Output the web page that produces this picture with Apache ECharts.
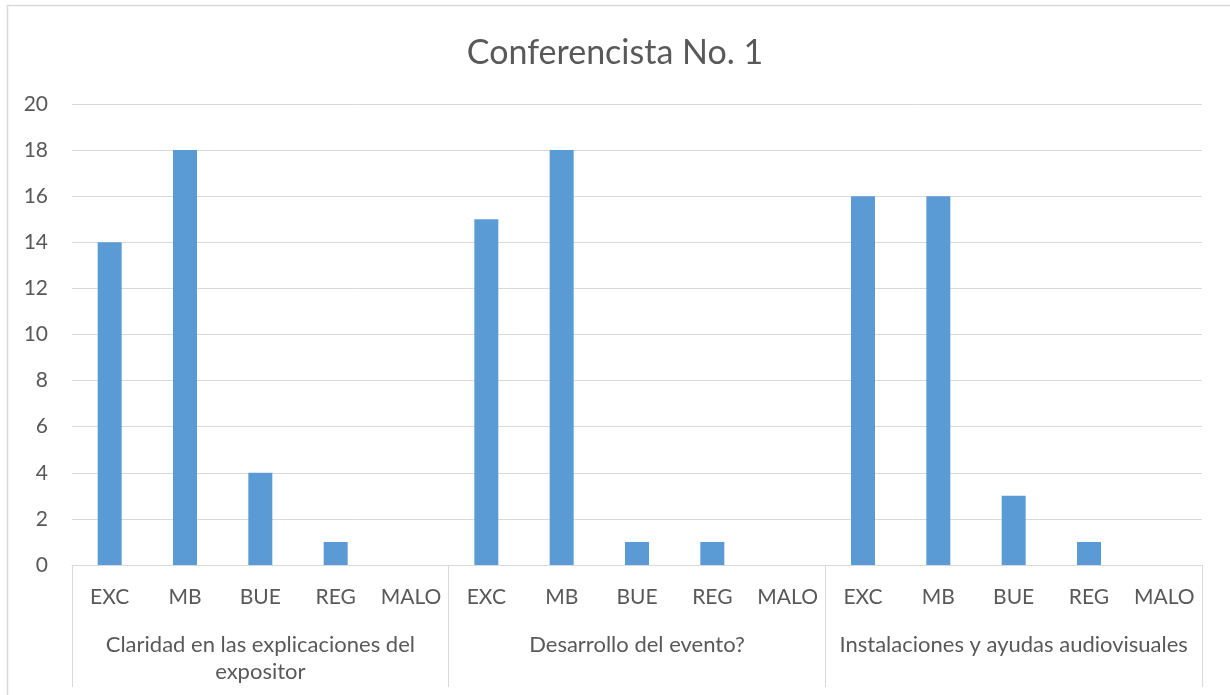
<!DOCTYPE html>
<html>
<head>
  <meta charset="utf-8">
  <title>Conferencista No. 1</title>
  <script src="https://cdn.jsdelivr.net/npm/echarts@6/dist/echarts.min.js"></script>
  <style>
    body { margin: 0; padding: 0; background: #fff; }
    #main { width: 1230px; height: 695px; }
  </style>
</head>
<body>
  <div id="main"></div>
  <script>
    // ratings per block of questions
    var ratings = ['EXC', 'MB', 'BUE', 'REG', 'MALO'];
    var groups = ['Claridad en las explicaciones del\nexpositor', 'Desarrollo del evento?', 'Instalaciones y ayudas audiovisuales'];
    var claridad = [14, 18, 4, 1, 0];
    var desarrollo = [15, 18, 1, 1, 0];
    var instalaciones = [16, 16, 3, 1, 0];

    var cats = [], vals = [];
    [claridad, desarrollo, instalaciones].forEach(function (arr) {
      for (var i = 0; i < ratings.length; i++) {
        cats.push(ratings[i]);
        vals.push(arr[i]);
      }
    });

    var font = 'Lato, "Open Sans", sans-serif';
    var grey = '#d9d9d9';
    var txt = '#595959';

    var chart = echarts.init(document.getElementById('main'));
    chart.setOption({
      animation: false,
      textStyle: { fontFamily: font },
      title: {
        text: 'Conferencista No. 1',
        left: 'center',
        top: 31,
        textStyle: { fontSize: 34, fontWeight: 'normal', color: txt, fontFamily: font }
      },
      // chart area frame, right side runs off the picture
      graphic: [{
        type: 'rect',
        shape: { x: 7.5, y: 5.5, width: 1240, height: 700 },
        style: { fill: 'none', stroke: grey, lineWidth: 1.5 },
        silent: true
      }],
      grid: { left: 72, right: 28, top: 104, bottom: 130 },
      xAxis: [{
        type: 'category',
        data: cats,
        position: 'bottom',
        axisLine: { show: true, lineStyle: { color: grey } },
        axisTick: { show: false },
        axisLabel: { color: txt, fontSize: 21, margin: 22, interval: 0 }
      }, {
        type: 'category',
        data: groups,
        position: 'bottom',
        axisLine: { show: false },
        axisTick: { show: true, length: 122, lineStyle: { color: grey } },
        axisLabel: { color: txt, fontSize: 22, margin: 66, lineHeight: 27, interval: 0 }
      }],
      yAxis: {
        type: 'value',
        min: 0,
        max: 20,
        interval: 2,
        axisLine: { show: false },
        axisTick: { show: false },
        axisLabel: { color: txt, fontSize: 21, margin: 24 },
        splitLine: { lineStyle: { color: grey } }
      },
      series: [{
        type: 'bar',
        data: vals,
        xAxisIndex: 0,
        barWidth: 24,
        itemStyle: { color: '#5b9bd5' }
      }]
    });
  </script>
</body>
</html>
